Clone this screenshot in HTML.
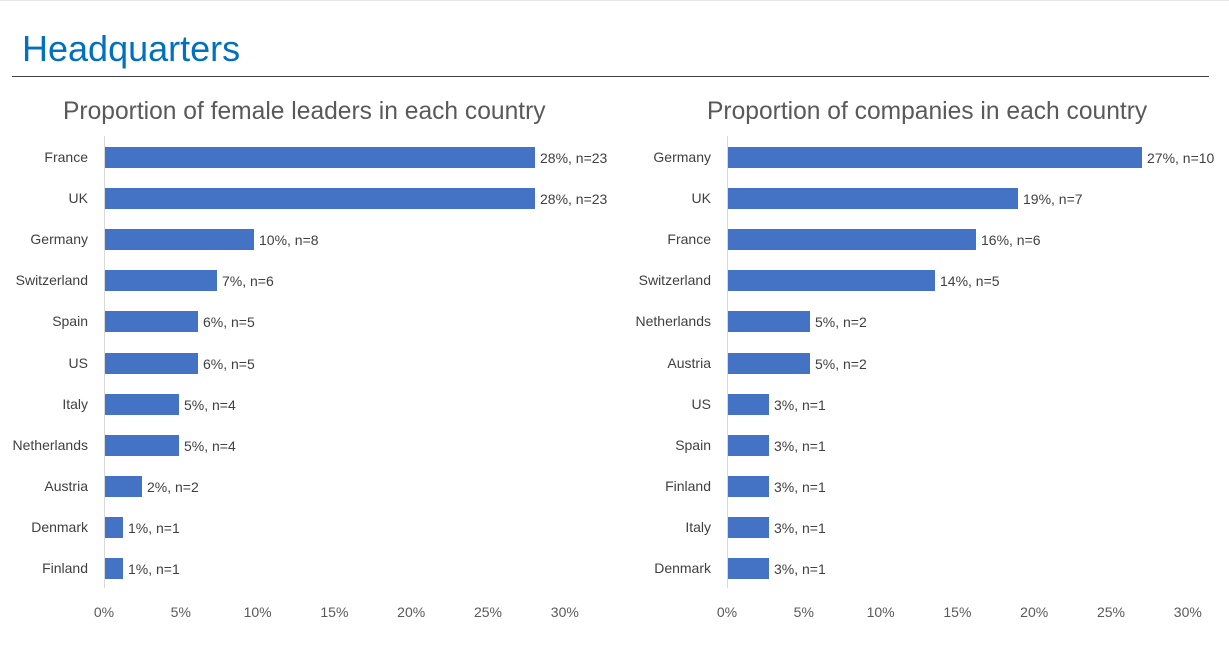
<!DOCTYPE html>
<html><head><style>
body{margin:0;width:1229px;height:651px;background:#fff;position:relative;overflow:hidden;font-family:"Liberation Sans",sans-serif;}
.a{position:absolute;white-space:nowrap;}
.bar{position:absolute;background:#4472C4;height:21px;}
.cat{position:absolute;font-size:14px;color:#404040;text-align:right;width:86px;}
.val{position:absolute;font-size:14px;color:#404040;}
.tick{position:absolute;font-size:14px;color:#595959;width:50px;text-align:center;}
</style></head><body>
<div style="position:absolute;left:0;top:0;width:1229px;height:1px;background:#e6e6e6"></div>
<div class="a" style="left:22px;top:28px;font-size:36px;color:#0070C0">Headquarters</div>
<div style="position:absolute;left:12px;top:76px;width:1197px;height:1px;background:#404040"></div>
<div class="a" style="left:63px;top:98px;font-size:24.6px;color:#595959">Proportion of female leaders in each country</div>
<div class="a" style="left:707px;top:98px;font-size:24.6px;color:#595959">Proportion of companies in each country</div>
<div style="position:absolute;left:104px;top:136px;width:1px;height:452px;background:#d9d9d9"></div>
<div style="position:absolute;left:727px;top:136px;width:1px;height:452px;background:#d9d9d9"></div>
<div id="c"></div>
<script>
var L=[["France",535,"28%, n=23"],["UK",535,"28%, n=23"],["Germany",254,"10%, n=8"],["Switzerland",217,"7%, n=6"],["Spain",198,"6%, n=5"],["US",198,"6%, n=5"],["Italy",179,"5%, n=4"],["Netherlands",179,"5%, n=4"],["Austria",142,"2%, n=2"],["Denmark",123,"1%, n=1"],["Finland",123,"1%, n=1"]];
var R=[["Germany",1142,"27%, n=10"],["UK",1018,"19%, n=7"],["France",976,"16%, n=6"],["Switzerland",935,"14%, n=5"],["Netherlands",810,"5%, n=2"],["Austria",810,"5%, n=2"],["US",769,"3%, n=1"],["Spain",769,"3%, n=1"],["Finland",769,"3%, n=1"],["Italy",769,"3%, n=1"],["Denmark",769,"3%, n=1"]];
var h="";
function draw(d,x0){d.forEach(function(r,i){var y=147+i*41.1;
h+='<div class="cat" style="left:'+(x0-102)+'px;top:'+(y+2)+'px">'+r[0]+'</div>';
h+='<div class="bar" style="left:'+(x0+1)+'px;top:'+y+'px;width:'+(r[1]-x0-1)+'px"></div>';
h+='<div class="val" style="left:'+(r[1]+5)+'px;top:'+(y+3)+'px">'+r[2]+'</div>';});
for(var k=0;k<=6;k++){h+='<div class="tick" style="left:'+(x0+k*76.8-25)+'px;top:604px">'+(k*5)+'%</div>';}}
draw(L,104);draw(R,727);
document.getElementById("c").innerHTML=h;
</script>
</body></html>
